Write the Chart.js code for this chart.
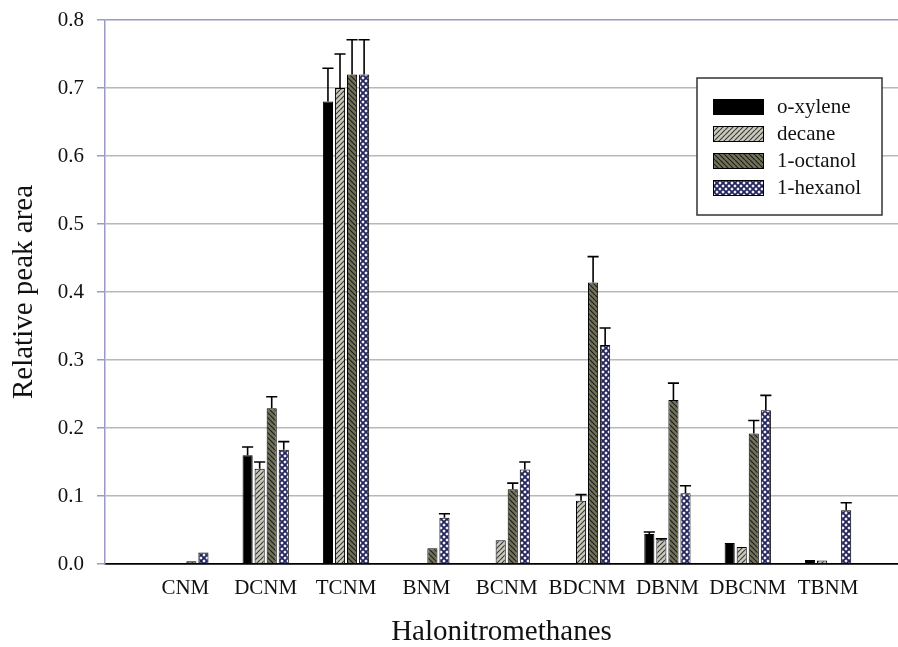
<!DOCTYPE html>
<html>
<head>
<meta charset="utf-8">
<script src="https://cdn.jsdelivr.net/npm/chart.js@4.4.1/dist/chart.umd.min.js"></script>
<style>
    html, body { margin: 0; padding: 0; background: #fff; }
    #wrap { width: 898px; height: 647px; }
</style>
</head>
<body>
<div id="wrap"><canvas id="myChart"></canvas></div>
<script>
var compounds = ["CNM", "DCNM", "TCNM", "BNM", "BCNM", "BDCNM", "DBNM", "DBCNM", "TBNM"];
var yTicks = [0.0, 0.1, 0.2, 0.3, 0.4, 0.5, 0.6, 0.7, 0.8];

// relative peak area per solvent, with the upper error
var xylene     = [null, 0.160, 0.680, null, null, null, 0.044, 0.031, 0.006];
var xyleneErr  = [0, 0.012, 0.049, 0, 0, 0, 0.003, 0, 0];
var decane     = [null, 0.140, 0.700, null, 0.035, 0.093, 0.035, 0.025, 0.005];
var decaneErr  = [0, 0.010, 0.050, 0, 0, 0.009, 0.002, 0, 0];
var octanol    = [0.004, 0.229, 0.720, 0.023, 0.110, 0.414, 0.241, 0.192, null];
var octanolErr = [0, 0.017, 0.051, 0, 0.009, 0.038, 0.025, 0.019, 0];
var hexanol    = [0.017, 0.168, 0.720, 0.068, 0.139, 0.322, 0.104, 0.226, 0.079];
var hexanolErr = [0, 0.012, 0.051, 0.006, 0.011, 0.025, 0.011, 0.022, 0.011];

var serif = '"Liberation Serif", "Times New Roman", serif';

function tile(size, bg, draw) {
    var c = document.createElement('canvas');
    c.width = size;
    c.height = size;
    var g = c.getContext('2d');
    g.fillStyle = bg;
    g.fillRect(0, 0, size, size);
    draw(g, size);
    return document.getElementById('myChart').getContext('2d').createPattern(c, 'repeat');
}

function hatch(dir) {
    return function (g, s) {
        g.beginPath();
        for (var k = -1; k <= 1; k++) {
            if (dir > 0) {
                g.moveTo(k * s, s); g.lineTo(k * s + s, 0);
            } else {
                g.moveTo(k * s, 0); g.lineTo(k * s + s, s);
            }
        }
        g.stroke();
    };
}

var decaneFill = tile(5, '#c9c9bc', function (g, s) {
    g.strokeStyle = '#3c3c3c'; g.lineWidth = 1.2; hatch(1)(g, s);
});
var octanolFill = tile(5, '#72725a', function (g, s) {
    g.strokeStyle = '#1c1c1c'; g.lineWidth = 1.2; hatch(-1)(g, s);
});
var hexanolFill = tile(6, '#f6f6ff', function (g, s) {
    g.strokeStyle = '#24245c'; g.lineWidth = 1.8; hatch(1)(g, s); hatch(-1)(g, s);
});

function points(arr) {
    return arr.map(function (v, i) { return { x: i, y: v }; });
}

function series(label, values, errors, fill) {
    return {
        label: label,
        data: points(values),
        errors: errors,
        backgroundColor: fill,
        borderColor: '#000',
        borderWidth: 1,
        categoryPercentage: 0.6,
        barPercentage: 0.84
    };
}

var data = {
    datasets: [
        series('o-xylene', xylene, xyleneErr, '#000'),
        series('decane', decane, decaneErr, decaneFill),
        series('1-octanol', octanol, octanolErr, octanolFill),
        series('1-hexanol', hexanol, hexanolErr, hexanolFill)
    ]
};

// upper error bars with a cap
var errorBars = {
    id: 'errorBars',
    afterDatasetsDraw: function (chart) {
        var ctx = chart.ctx, ys = chart.scales.y;
        ctx.save();
        ctx.strokeStyle = '#000';
        ctx.lineWidth = 1.6;
        chart.data.datasets.forEach(function (ds, di) {
            chart.getDatasetMeta(di).data.forEach(function (bar, i) {
                var v = ds.data[i].y, e = ds.errors[i];
                if (v == null || !e) return;
                var top = ys.getPixelForValue(v + e);
                var half = bar.width / 2 + 0.5;
                ctx.beginPath();
                ctx.moveTo(bar.x, bar.y);
                ctx.lineTo(bar.x, top);
                ctx.moveTo(bar.x - half, top);
                ctx.lineTo(bar.x + half, top);
                ctx.stroke();
            });
        });
        ctx.restore();
    }
};

// boxed legend inside the plot
var boxLegend = {
    id: 'boxLegend',
    afterDraw: function (chart) {
        var ctx = chart.ctx;
        var x0 = 697, y0 = 78, w = 185, h = 137;
        ctx.save();
        ctx.fillStyle = '#fff';
        ctx.fillRect(x0, y0, w, h);
        ctx.strokeStyle = '#333';
        ctx.lineWidth = 1.5;
        ctx.strokeRect(x0, y0, w, h);
        ctx.font = '21px ' + serif;
        ctx.textBaseline = 'middle';
        chart.data.datasets.forEach(function (ds, i) {
            var cy = 107 + i * 27;
            ctx.fillStyle = ds.backgroundColor;
            ctx.fillRect(713, cy - 8, 51, 16);
            ctx.strokeStyle = '#000';
            ctx.lineWidth = 1;
            ctx.strokeRect(713.5, cy - 7.5, 50, 15);
            ctx.fillStyle = '#111';
            ctx.fillText(ds.label, 777, cy);
        });
        ctx.restore();
    }
};

var options = {
    maintainAspectRatio: false,
    responsive: true,
    animation: false,
    layout: { padding: { top: 20, right: 0, left: 0, bottom: 0 } },
    plugins: {
        legend: { display: false },
        tooltip: { enabled: false }
    },
    scales: {
        x: {
            type: 'linear',
            offset: false,
            min: -1,
            max: 8.87,
            afterBuildTicks: function (s) {
                s.ticks = compounds.map(function (c, i) { return { value: i }; });
            },
            afterFit: function (s) {
                s.height = 83;
                s.paddingLeft = 0;
                s.paddingRight = 0;
            },
            grid: { display: false, drawTicks: false, offset: false },
            border: { display: true, color: '#000', width: 1.5 },
            ticks: {
                autoSkip: false,
                maxRotation: 0,
                padding: 12,
                color: '#111',
                font: { family: serif, size: 21 },
                callback: function (v) { return compounds[v]; }
            },
            title: {
                display: true,
                text: 'Halonitromethanes',
                color: '#111',
                padding: 0,
                font: { family: serif, size: 29, lineHeight: 1 }
            }
        },
        y: {
            min: 0,
            max: 0.8,
            afterBuildTicks: function (s) {
                s.ticks = yTicks.map(function (v) { return { value: v }; });
            },
            afterFit: function (s) {
                s.width = 105;
                s.paddingTop = 0;
                s.paddingBottom = 0;
            },
            grid: {
                color: function (c) {
                    if (c.tick.value === 0) return '#000';
                    return c.tick.value >= 0.8 ? '#9a9ac4' : '#b8b8b8';
                },
                lineWidth: 1.5,
                tickLength: 8,
                tickColor: '#9a9ac4'
            },
            border: { color: '#9a9ac4', width: 1.5 },
            ticks: {
                padding: 13,
                color: '#111',
                font: { family: serif, size: 21, lineHeight: 1 },
                callback: function (v) { return v.toFixed(1); }
            },
            title: {
                display: true,
                text: 'Relative peak area',
                color: '#111',
                padding: { top: 10, bottom: 0 },
                font: { family: serif, size: 29, lineHeight: 1 }
            }
        }
    }
};

var ctx = document.getElementById('myChart').getContext('2d');
var chart = new Chart(ctx, {
    type: 'bar',
    data: data,
    options: options,
    plugins: [errorBars, boxLegend]
});
</script>
</body>
</html>
